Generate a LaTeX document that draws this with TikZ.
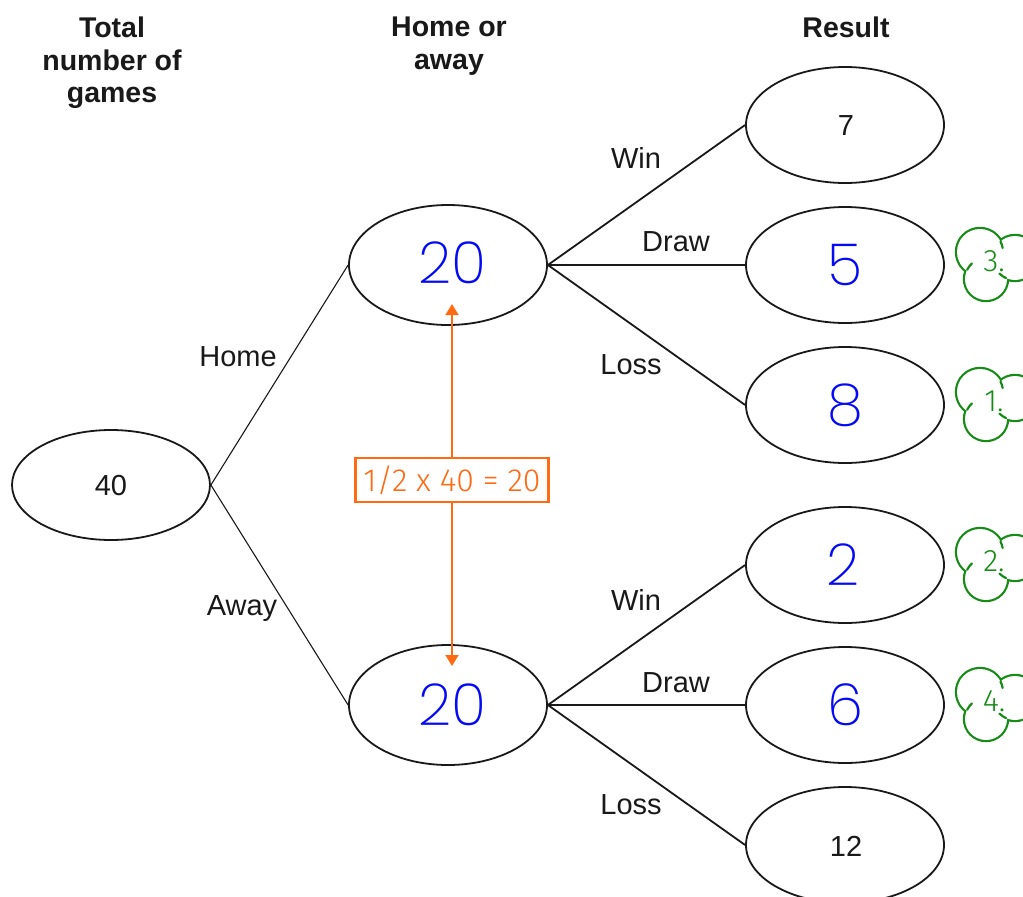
\documentclass[tikz,border=0pt]{standalone}
\usepackage{fontspec}
\setmainfont{Liberation Sans}
\IfFontExistsTF{Poppins ExtraLight}
  {\newfontfamily\handfont{Poppins ExtraLight}}
  {\newfontfamily\handfont{Poppins}[UprightFont={* Light}]}
\newfontfamily\notefont{Fira Sans}[UprightFont={* Light}]
\usetikzlibrary{shapes.geometric,arrows.meta}

\definecolor{ink}{RGB}{25,25,25}
\definecolor{pen}{RGB}{5,10,245}
\definecolor{notecol}{RGB}{255,106,19}
\definecolor{tagcol}{RGB}{22,140,22}

\tikzset{
  oval/.style={ellipse, draw=ink, line width=1.8pt, fill=white,
    minimum width=198pt, minimum height=116pt, inner sep=0pt},
  midoval/.style={oval, minimum height=120pt},
  rootoval/.style={oval, minimum height=110pt},
  branch/.style={draw=ink, line width=1.8pt},
  thinbranch/.style={draw=ink, line width=1.1pt},
  lbl/.style={font=\fontsize{29}{33}\selectfont, text=ink, inner sep=0pt},
  head/.style={font=\fontsize{28.5}{32.5}\selectfont\bfseries, text=ink,
    align=center, inner sep=0pt},
  hand/.style={font=\handfont\fontsize{58}{60}\selectfont, text=pen, inner sep=0pt},
  notebox/.style={draw=notecol, line width=2.4pt, fill=white,
    font=\notefont\fontsize{32}{34}\selectfont, text=notecol,
    minimum width=193pt, minimum height=44pt, inner sep=0pt},
  notearrow/.style={draw=notecol, line width=1.6pt,
    -{Triangle[width=13pt,length=11pt]}},
  tagline/.style={draw=tagcol, line width=2.2pt},
  tagtext/.style={font=\notefont\fontsize{31}{33}\selectfont, text=tagcol, inner sep=0pt},
}

% green cloud marker beside a result row
\newcommand\cloudtag[3]{%
  \begin{scope}[shift={(0,#2)}]
    \draw[tagline, line width=4.4pt]
      (980,-13) circle[radius=23] (1015,-7) circle[radius=22] (986,14) circle[radius=21];
    \fill[white]
      (980,-13) circle[radius=23] (1015,-7) circle[radius=22] (986,14) circle[radius=21];
    \draw[tagline, line cap=round] (980,-13) ++(333:23) arc[start angle=333, end angle=350, radius=23];
    \draw[tagline, line cap=round] (1015,-7) ++(114:22) arc[start angle=114, end angle=135, radius=22];
    \draw[tagline, line cap=round] (986,14) ++(206:21) arc[start angle=206, end angle=228, radius=21];
    \node[tagtext] (#1) at (994,-4) {#3};
  \end{scope}}

\begin{document}
\begin{tikzpicture}[x=1pt, y=-1pt]
  \useasboundingbox[fill=white] (0,0) rectangle (1023,897);

  % column headings
  \node[head] (h1) at (112,63) {Total\\number of\\games};
  \node[head] (h2) at (449,46) {Home or\\away};
  \node[head] (h3) at (846,27) {Result};

  % tree nodes
  \node[rootoval] (root) at (111,485) {};
  \node[midoval] (home) at (448,265) {};
  \node[midoval] (away) at (448,705) {};
  \node[oval] (hw) at (845,125) {};
  \node[oval] (hd) at (845,265) {};
  \node[oval] (hl) at (845,405) {};
  \node[oval] (aw) at (845,565) {};
  \node[oval] (ad) at (845,705) {};
  \node[oval] (al) at (845,845) {};

  % branches
  \draw[thinbranch] (root.east) -- (home.west);
  \draw[thinbranch] (root.east) -- (away.west);
  \foreach \t in {hw,hd,hl} \draw[branch] (home.east) -- (\t.west);
  \foreach \t in {aw,ad,al} \draw[branch] (away.east) -- (\t.west);

  % branch labels
  \node[lbl] (lhome) at (238,357) {Home};
  \node[lbl] (laway) at (242,609) {Away};
  \node[lbl] (lhw) at (636,158) {Win};
  \node[lbl] (lhd) at (676,242) {Draw};
  \node[lbl] (lhl) at (631,365) {Loss};
  \node[lbl] (law) at (636,600) {Win};
  \node[lbl] (lad) at (676,683) {Draw};
  \node[lbl] (lal) at (631,805) {Loss};

  % printed values
  \node[lbl] (v40) at (111,486) {40};
  \node[lbl] (v7) at (846,126) {7};
  \node[lbl] (v12) at (846,846) {12};

  % handwritten values
  \node[hand] (v20a) at (452,263) {20};
  \node[hand] (v20b) at (452,705) {20};
  \node[hand] (v5) at (845,265) {5};
  \node[hand] (v8) at (845,405) {8};
  \node[hand] (v2) at (843,565) {2};
  \node[hand] (v6) at (845,705) {6};

  % halving note
  \coordinate (tipA) at (452,304);
  \coordinate (tipB) at (452,666);
  \node[notebox] (note) at (452,480) {1/2 x 40 = 20};
  \draw[notearrow] (note.north) -- (tipA);
  \draw[notearrow] (note.south) -- (tipB);

  % order markers
  \cloudtag{t3}{265}{3.}
  \cloudtag{t1}{405}{1.}
  \cloudtag{t2}{565}{2.}
  \cloudtag{t4}{705}{4.}
\end{tikzpicture}
\end{document}
